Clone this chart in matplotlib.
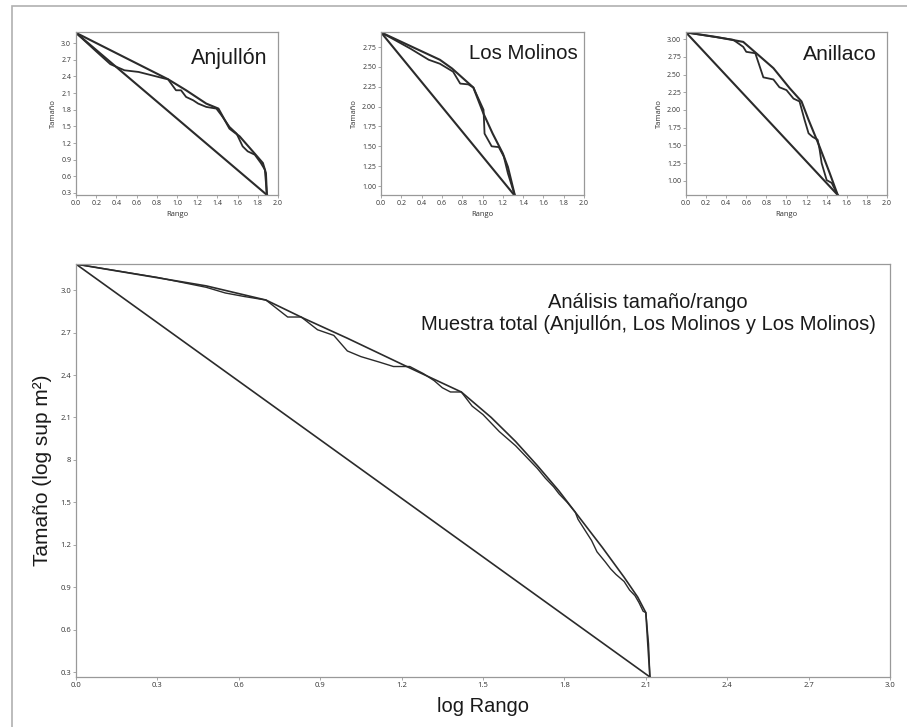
import matplotlib
matplotlib.use("Agg")
import matplotlib.pyplot as plt
from matplotlib.patches import Rectangle
import numpy as np

# --- data ---

# Anjullón
anj_ref_x = [0.0, 1.89]
anj_ref_y = [3.185, 0.265]
anj_fit_x = [0.0, 0.91, 1.09, 1.29, 1.41, 1.52, 1.62, 1.75, 1.85, 1.88, 1.89]
anj_fit_y = [3.185, 2.35, 2.15, 1.91, 1.82, 1.46, 1.32, 1.05, 0.84, 0.66, 0.265]
anj_obs_x = [0.0, 0.2, 0.34, 0.48, 0.62, 0.75, 0.88, 0.91, 0.99, 1.04, 1.09, 1.16, 1.21,
             1.29, 1.39, 1.44, 1.52, 1.59, 1.65, 1.70, 1.77, 1.83, 1.87, 1.89]
anj_obs_y = [3.185, 2.85, 2.62, 2.51, 2.48, 2.42, 2.36, 2.35, 2.15, 2.15, 2.03, 1.97, 1.91,
             1.85, 1.82, 1.70, 1.49, 1.37, 1.14, 1.05, 0.99, 0.84, 0.72, 0.265]

# Los Molinos
mol_ref_x = [0.0, 1.32]
mol_ref_y = [2.935, 0.874]
mol_fit_x = [0.0, 0.58, 0.70, 0.91, 1.01, 1.10, 1.20, 1.25, 1.32]
mol_fit_y = [2.935, 2.59, 2.48, 2.24, 1.91, 1.66, 1.41, 1.24, 0.874]
mol_obs_x = [0.0, 0.29, 0.47, 0.58, 0.71, 0.78, 0.86, 0.91, 1.01, 1.02, 1.09, 1.16, 1.21, 1.25, 1.32]
mol_obs_y = [2.935, 2.73, 2.59, 2.54, 2.44, 2.29, 2.28, 2.24, 1.96, 1.66, 1.50, 1.49, 1.37, 1.16, 0.874]

# Anillaco
ani_ref_x = [0.0, 1.51]
ani_ref_y = [3.094, 0.80]
ani_fit_x = [0.0, 0.30, 0.57, 0.70, 0.87, 1.03, 1.15, 1.22, 1.33, 1.43, 1.51]
ani_fit_y = [3.094, 3.03, 2.96, 2.80, 2.59, 2.31, 2.12, 1.86, 1.48, 1.11, 0.80]
ani_obs_x = [0.0, 0.47, 0.57, 0.60, 0.69, 0.77, 0.87, 0.93, 1.00, 1.07, 1.13, 1.18, 1.22,
             1.26, 1.31, 1.33, 1.35, 1.40, 1.45, 1.51]
ani_obs_y = [3.094, 2.99, 2.89, 2.82, 2.80, 2.46, 2.43, 2.32, 2.28, 2.16, 2.12, 1.86, 1.67,
             1.62, 1.58, 1.44, 1.25, 1.01, 0.97, 0.80]

# Muestra total
tot_ref_x = [0.0, 2.115]
tot_ref_y = [3.184, 0.265]
tot_fit_x = [0.0, 0.48, 0.70, 0.84, 1.0, 1.23, 1.42, 1.53, 1.62, 1.70, 1.78, 1.86, 1.94,
             2.02, 2.07, 2.10, 2.115]
tot_fit_y = [3.184, 3.03, 2.93, 2.80, 2.66, 2.45, 2.28, 2.10, 1.93, 1.76, 1.58, 1.38, 1.18,
             0.97, 0.83, 0.72, 0.265]
tot_obs_x = [0.0, 0.3, 0.48, 0.55, 0.62, 0.70, 0.78, 0.83, 0.89, 0.95, 1.0, 1.05, 1.12, 1.17,
             1.23, 1.28, 1.32, 1.35, 1.38, 1.42, 1.46, 1.50, 1.53, 1.56, 1.59, 1.62, 1.65,
             1.67, 1.70, 1.73, 1.76, 1.78, 1.81, 1.84, 1.85, 1.88, 1.90, 1.92, 1.95, 1.97,
             1.99, 2.02, 2.04, 2.06, 2.075, 2.09, 2.10, 2.11, 2.115]
tot_obs_y = [3.184, 3.09, 3.02, 2.98, 2.955, 2.93, 2.81, 2.81, 2.72, 2.68, 2.57, 2.53, 2.49, 2.46,
             2.46, 2.41, 2.36, 2.31, 2.28, 2.28, 2.18, 2.12, 2.06, 2.00, 1.95, 1.90, 1.84,
             1.80, 1.74, 1.67, 1.61, 1.56, 1.50, 1.43, 1.38, 1.29, 1.23, 1.15, 1.08, 1.03,
             0.99, 0.94, 0.88, 0.84, 0.79, 0.73, 0.72, 0.50, 0.265]

LINE = "#2b2b2b"
SPINE = "#999999"
TITLE_FONT = "Liberation Sans"
TICK_FONT = "Open Sans"

fig = plt.figure(figsize=(9.07, 7.27), dpi=100)

# partial outer frame (top and left edges only visible)
fig.patches.append(Rectangle((12 / 907, -0.2), 1.2, 1.2 - 6 / 727,
                             transform=fig.transFigure, fill=False,
                             edgecolor="#b0b0b0", linewidth=1.2))


def style_axes(ax, tick_size):
    for sp in ax.spines.values():
        sp.set_color(SPINE)
        sp.set_linewidth(0.9)
    ax.tick_params(axis="both", length=2, width=0.6, color=SPINE,
                   labelsize=tick_size, labelcolor="#333333", pad=1.5)
    for lab in ax.get_xticklabels() + ax.get_yticklabels():
        lab.set_family(TICK_FONT)


def small_panel(rect, name, ref, fit, obs, ylim, yticks, yfmt, title_xy, title_size):
    ax = fig.add_axes(rect)
    ax.plot(ref[0], ref[1], color=LINE, lw=1.5)
    ax.plot(fit[0], fit[1], color=LINE, lw=1.5)
    ax.plot(obs[0], obs[1], color=LINE, lw=1.3)
    ax.set_xlim(0, 2.0)
    ax.set_ylim(*ylim)
    ax.set_xticks(np.arange(0, 2.01, 0.2))
    ax.set_xticklabels([f"{v:.1f}" for v in np.arange(0, 2.01, 0.2)])
    ax.set_yticks(yticks)
    ax.set_yticklabels([yfmt.format(v) for v in yticks])
    ax.set_xlabel("Rango", fontsize=5.5, family=TICK_FONT, color="#333333", labelpad=3)
    ax.set_ylabel("Tamaño", fontsize=5.5, family=TICK_FONT, color="#333333", labelpad=3)
    style_axes(ax, 5)
    ax.text(title_xy[0], title_xy[1], name, transform=ax.transAxes, ha="right", va="center",
            fontsize=title_size, family=TITLE_FONT, color="#1a1a1a")
    return ax


small_panel([0.0838, 0.7318, 0.2227, 0.2242], "Anjullón",
            (anj_ref_x, anj_ref_y), (anj_fit_x, anj_fit_y), (anj_obs_x, anj_obs_y),
            (0.264, 3.2), [0.3, 0.6, 0.9, 1.2, 1.5, 1.8, 2.1, 2.4, 2.7, 3.0], "{:.1f}",
            (0.95, 0.84), 15.5)
small_panel([0.4201, 0.7318, 0.2238, 0.2242], "Los Molinos",
            (mol_ref_x, mol_ref_y), (mol_fit_x, mol_fit_y), (mol_obs_x, mol_obs_y),
            (0.887, 2.94), [1.0, 1.25, 1.5, 1.75, 2.0, 2.25, 2.5, 2.75], "{:.2f}",
            (0.97, 0.87), 14.7)
small_panel([0.7563, 0.7318, 0.2216, 0.2242], "Anillaco",
            (ani_ref_x, ani_ref_y), (ani_fit_x, ani_fit_y), (ani_obs_x, ani_obs_y),
            (0.80, 3.10), [1.0, 1.25, 1.5, 1.75, 2.0, 2.25, 2.5, 2.75, 3.0], "{:.2f}",
            (0.95, 0.86), 15.2)

# main panel
ax = fig.add_axes([0.0838, 0.0688, 0.8975, 0.5681])
ax.plot(tot_ref_x, tot_ref_y, color=LINE, lw=1.2)
ax.plot(tot_fit_x, tot_fit_y, color=LINE, lw=1.2)
ax.plot(tot_obs_x, tot_obs_y, color=LINE, lw=1.0)
ax.set_xlim(0, 3.0)
ax.set_ylim(0.265, 3.185)
xt = np.round(np.arange(0, 3.01, 0.3), 1)
ax.set_xticks(xt)
ax.set_xticklabels([f"{v:.1f}" for v in xt])
yt = np.round(np.arange(0.3, 3.01, 0.3), 1)
ylabels = [f"{v:.1f}" for v in yt]
ylabels[list(yt).index(1.8)] = "8"
ax.set_yticks(yt)
ax.set_yticklabels(ylabels)
style_axes(ax, 5.5)
ax.set_xlabel("log Rango", fontsize=14.5, family=TITLE_FONT, color="#1a1a1a", labelpad=6)
ax.set_ylabel("Tamaño (log sup m²)", fontsize=15, family=TITLE_FONT, color="#1a1a1a", labelpad=6)
ax.text(0.703, 0.88, "Análisis tamaño/rango\nMuestra total (Anjullón, Los Molinos y Los Molinos)",
        transform=ax.transAxes, ha="center", va="center", fontsize=14.5,
        family=TITLE_FONT, color="#1a1a1a", linespacing=1.15)

plt.savefig("out.png", dpi=100)
plt.close()
